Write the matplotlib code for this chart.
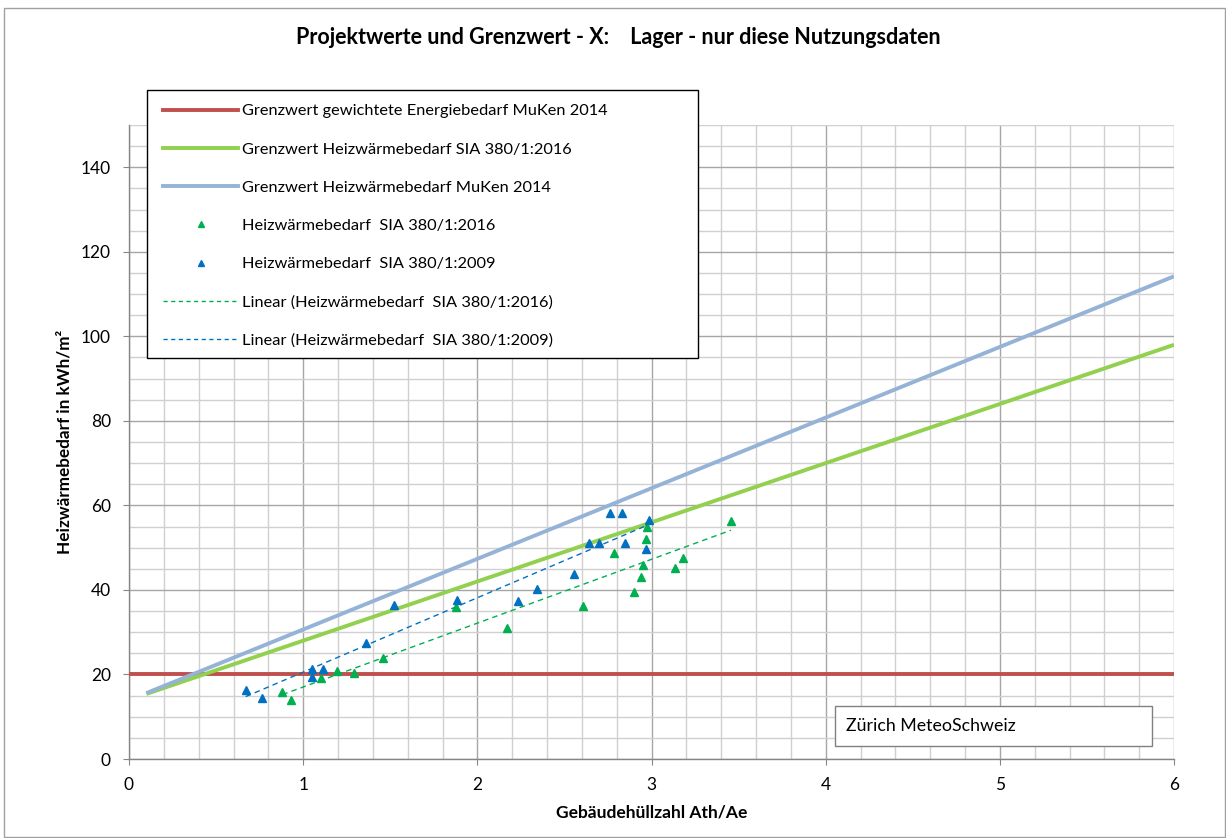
import numpy as np
import matplotlib
matplotlib.use("Agg")
import matplotlib.pyplot as plt
from matplotlib.lines import Line2D
from matplotlib.patches import Rectangle
from matplotlib.ticker import MultipleLocator

plt.rcParams['font.family'] = ['Lato', 'DejaVu Sans']

# ---- data ----
title = "Projektwerte und Grenzwert - X:    Lager - nur diese Nutzungsdaten"
x_label = "Gebäudehüllzahl Ath/Ae"
y_label = "Heizwärmebedarf in kWh/m²"
station = "Zürich MeteoSchweiz"

# limit lines (endpoints)
red_x = [0.0, 6.0]
red_y = [20.0, 20.0]
green_lim_x = [0.1, 6.0]
green_lim_y = [15.4, 98.0]
blue_lim_x = [0.1, 6.0]
blue_lim_y = [15.6, 114.2]

# SIA 380/1:2016 project values
sia2016_x = [0.88, 0.928, 1.102, 1.196, 1.292, 1.46, 1.877, 2.173, 2.605, 2.786,
             2.90, 2.937, 2.949, 2.968, 2.975, 3.135, 3.183, 3.456]
sia2016_y = [15.9, 13.95, 19.1, 20.9, 20.4, 24.0, 36.0, 31.0, 36.3, 48.8,
             39.6, 43.0, 46.0, 52.1, 54.9, 45.1, 47.6, 56.4]

# SIA 380/1:2009 project values
sia2009_x = [0.67, 0.762, 1.049, 1.112, 1.052, 1.359, 1.523, 1.886, 2.231, 2.340,
             2.555, 2.641, 2.699, 2.762, 2.833, 2.848, 2.968, 2.988]
sia2009_y = [16.3, 14.35, 21.4, 21.4, 19.5, 27.4, 36.4, 37.6, 37.4, 40.2,
             43.7, 51.2, 51.2, 58.1, 58.1, 51.0, 49.8, 56.5]

labels = ["Grenzwert gewichtete Energiebedarf MuKen 2014",
          "Grenzwert Heizwärmebedarf SIA 380/1:2016",
          "Grenzwert Heizwärmebedarf MuKen 2014",
          "Heizwärmebedarf  SIA 380/1:2016",
          "Heizwärmebedarf  SIA 380/1:2009",
          "Linear (Heizwärmebedarf  SIA 380/1:2016)",
          "Linear (Heizwärmebedarf  SIA 380/1:2009)"]

# ---- colours ----
c_red = "#C0504D"
c_green_line = "#92D050"
c_blue_line = "#95B3D7"
c_green_pt = "#00B050"
c_blue_pt = "#0070C0"

W, H = 1226, 838
fig = plt.figure(figsize=(W / 100, H / 100), dpi=100)

def fx(px):
    return px / W

def fy(py):
    return 1 - py / H

# axes area: x 129..1174, y 125..759
ax = fig.add_axes([fx(129), fy(759), (1174 - 129) / W, (759 - 125) / H])
ax.set_xlim(0, 6)
ax.set_ylim(0, 150)

ax.xaxis.set_major_locator(MultipleLocator(1))
ax.xaxis.set_minor_locator(MultipleLocator(0.2))
ax.yaxis.set_major_locator(MultipleLocator(20))
ax.yaxis.set_minor_locator(MultipleLocator(5))
ax.set_yticks(np.arange(0, 141, 20))
ax.grid(which='major', color="#A6A6A6", linewidth=1.0, zorder=0)
ax.grid(which='minor', color="#D0D0D0", linewidth=1.0, zorder=0)
ax.set_axisbelow(True)
ax.tick_params(which='minor', length=0)
ax.tick_params(which='major', length=4.5, direction='out', color="#868686",
               labelsize=12.5, pad=8.5)
for s in ['top', 'right']:
    ax.spines[s].set_visible(False)
for s in ['left', 'bottom']:
    ax.spines[s].set_color("#868686")
    ax.spines[s].set_linewidth(1.0)

# limit lines
ax.plot(red_x, red_y, color=c_red, lw=2.8, solid_capstyle='butt', zorder=3)
ax.plot(green_lim_x, green_lim_y, color=c_green_line, lw=2.8, solid_capstyle='butt', zorder=3)
ax.plot(blue_lim_x, blue_lim_y, color=c_blue_line, lw=2.8, solid_capstyle='butt', zorder=3)

# scatter points
ax.plot(sia2016_x, sia2016_y, linestyle='none', marker='^', ms=5.5,
        color=c_green_pt, zorder=5)
ax.plot(sia2009_x, sia2009_y, linestyle='none', marker='^', ms=5.5,
        color=c_blue_pt, zorder=5)

# linear trendlines
for xs, ys, col in [(sia2016_x, sia2016_y, c_green_pt), (sia2009_x, sia2009_y, c_blue_pt)]:
    xs = np.array(xs)
    ys = np.array(ys)
    k, d = np.polyfit(xs, ys, 1)
    xx = np.array([xs.min(), xs.max()])
    ax.plot(xx, k * xx + d, color=col, lw=1.0, linestyle=(0, (4, 3)), zorder=4)

# labels
fig.text(fx(618), fy(38), title, ha='center', va='center', fontsize=15.5, fontweight='bold')
ax.set_xlabel(x_label, fontsize=12.5, fontweight='bold')
ax.xaxis.set_label_coords(0.5, -0.071)
ax.set_ylabel(y_label, fontsize=12.3, fontweight='bold')
ax.yaxis.set_label_coords(-0.0545, 0.5)

# station box
ax.add_patch(Rectangle((fx(835), fy(746)), (1152 - 835) / W, (746 - 706) / H,
                       transform=fig.transFigure, facecolor='white',
                       edgecolor="#808080", lw=1.0, zorder=6))
fig.text(fx(846), fy(726), station, ha='left', va='center', fontsize=12.8, zorder=7)

# legend box
fig.patches.append(Rectangle((fx(147), fy(358)), (698 - 147) / W, (358 - 90) / H,
                             transform=fig.transFigure, facecolor='white',
                             edgecolor='black', lw=1.0, zorder=6))
handles = [Line2D([], [], color=c_red, lw=2.8),
           Line2D([], [], color=c_green_line, lw=2.8),
           Line2D([], [], color=c_blue_line, lw=2.8),
           Line2D([], [], color=c_green_pt, marker='^', ms=4, linestyle='none'),
           Line2D([], [], color=c_blue_pt, marker='^', ms=4, linestyle='none'),
           Line2D([], [], color=c_green_pt, lw=1.0, linestyle=(0, (3, 2.5))),
           Line2D([], [], color=c_blue_pt, lw=1.0, linestyle=(0, (3, 2.5)))]
leg = fig.legend(handles, labels, loc='upper left',
                 bbox_to_anchor=(fx(163), fy(104)), frameon=False,
                 fontsize=11.8, handlelength=4.6, handletextpad=0.25,
                 labelspacing=1.45, borderaxespad=0, borderpad=0)
leg.set_zorder(8)

# outer chart border
fig.patches.append(Rectangle((fx(4), fy(837)), (1225 - 4) / W, (837 - 8) / H,
                             transform=fig.transFigure, facecolor='none',
                             edgecolor="#A0A0A0", lw=1.0, zorder=0))

fig.savefig("out.png", dpi=100)
